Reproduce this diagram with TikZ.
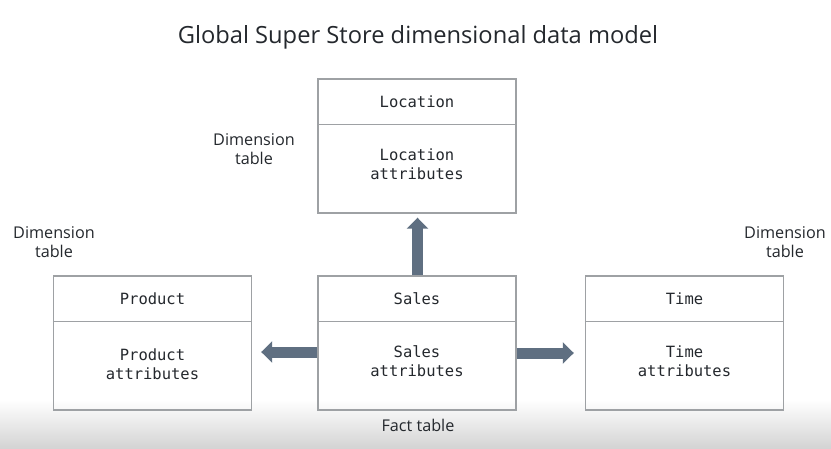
\documentclass[tikz,border=0pt]{standalone}
\usepackage{fontspec}
\setmainfont{Open Sans}
\newfontfamily\monof{DejaVu Sans Mono}
\usetikzlibrary{arrows.meta}
\definecolor{boxline}{HTML}{9EA1A4}
\definecolor{arrowc}{HTML}{5F6F81}
\definecolor{txt}{HTML}{24282D}
\tikzset{
  tbl/.style={draw=boxline, line width=1.4pt, minimum width=198pt, minimum height=134pt, inner sep=0pt},
  mono/.style={font=\monof\fontsize{15.5}{19}\selectfont, text=txt, align=center},
  lbl/.style={font=\fontsize{16.2}{19}\selectfont, text=txt, align=center},
  bigarrow/.style={draw=arrowc, line width=11pt, -{Triangle[width=21pt,length=11pt]}}
}
\begin{document}
\begin{tikzpicture}[x=1pt,y=-1pt]
\useasboundingbox (0,0) rectangle (831,448);
\fill[white] (0,0) rectangle (831,448);
\shade[top color=white, bottom color=black!17] (0,400) rectangle (831,448);
\node[font=\fontsize{23.7}{28}\selectfont, text=txt] (title) at (418,37) {Global Super Store dimensional data model};
% boxes
\node[tbl] (loc) at (417,146) {};
\node[tbl] (prod) at (152.5,343) {};
\node[tbl] (sales) at (417,343) {};
\node[tbl] (time) at (684.5,343) {};
\foreach \b in {loc,prod,sales,time}{
  \draw[boxline, line width=1.4pt] ([yshift=-46pt]\b.north west) -- ([yshift=-46pt]\b.north east);
}
% texts
\node[mono] (loch) at (417,102) {Location};
\node[mono] (locb) at (417,164) {Location\\attributes};
\node[mono] (prodh) at (152.5,299) {Product};
\node[mono] (prodb) at (152.5,364.5) {Product\\attributes};
\node[mono] (salesh) at (417,299) {Sales};
\node[mono] (salesb) at (417,361.5) {Sales\\attributes};
\node[mono] (timeh) at (684.5,299) {Time};
\node[mono] (timeb) at (684.5,361.5) {Time\\attributes};
% labels
\node[lbl] (d1) at (254,149.5) {Dimension\\table};
\node[lbl] (d2) at (54,242.5) {Dimension\\table};
\node[lbl] (d3) at (785,242.5) {Dimension\\table};
\node[lbl] (fact) at (418,425) {Fact table};
% arrows
\draw[bigarrow, shorten >=4pt] ([xshift=0.5pt]sales.north) -- ([xshift=0.5pt]loc.south);
\draw[bigarrow, shorten >=9pt] ([yshift=-9pt]sales.west) -- ([yshift=-9pt]prod.east);
\draw[bigarrow, shorten >=11pt] ([yshift=-10pt]sales.east) -- ([yshift=-10pt]time.west);
\end{tikzpicture}
\end{document}
